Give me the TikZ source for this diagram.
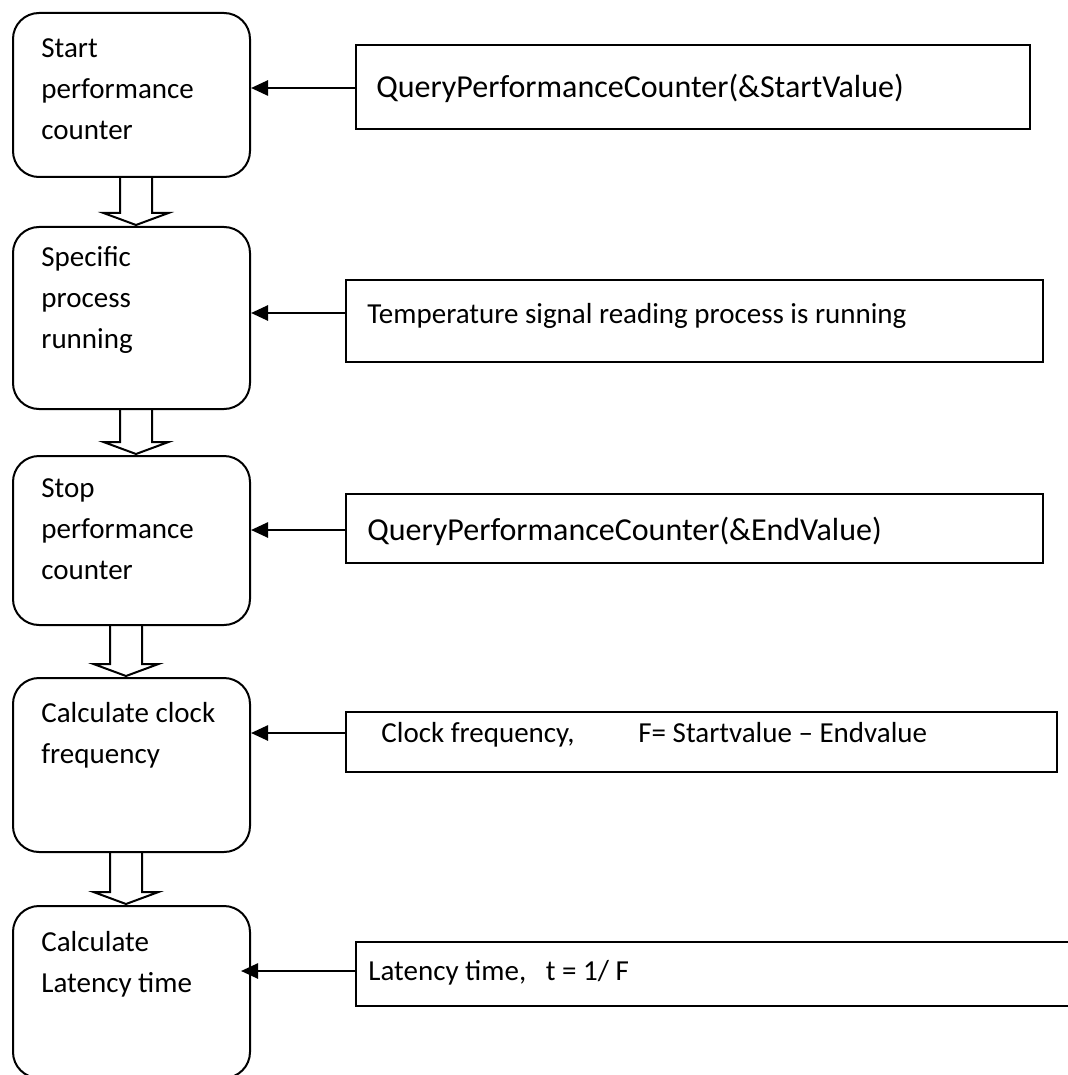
\documentclass[tikz,border=0pt]{standalone}
\usepackage{fontspec}
\setmainfont{Carlito}
\usetikzlibrary{arrows.meta}
\newcommand\blockarrow[3]{%
  \draw[hol] ([xshift=#3-8pt]#1.south) -- ([xshift=#3-8pt,yshift=6.5pt]#2.north)
    -- ([xshift=#3-16.25pt,yshift=6.5pt]#2.north) -- ([xshift=#3,yshift=0.5pt]#2.north)
    -- ([xshift=#3+16.25pt,yshift=6.5pt]#2.north) -- ([xshift=#3+8pt,yshift=6.5pt]#2.north)
    -- ([xshift=#3+8pt]#1.south);}
\begin{document}
\begin{tikzpicture}[x=0.5pt,y=-0.5pt,
  lbox/.style={draw,line width=1pt,rounded corners=13pt,minimum width=118.5pt,inner sep=0pt},
  rbox/.style={draw,line width=0.9pt,inner sep=0pt},
  ltext/.style={anchor=base west,inner sep=0pt,font=\fontsize{14.5pt}{20.5pt}\selectfont},
  rtext/.style={anchor=base west,inner sep=0pt},
  big/.style={font=\fontsize{16pt}{19pt}\selectfont},
  small/.style={font=\fontsize{14.5pt}{17pt}\selectfont},
  feed/.style={line width=1.3pt,-{Triangle[length=8.5pt,width=7.5pt]}},
  hol/.style={line width=1pt,line join=miter}]
\useasboundingbox (0,0) rectangle (1068,1075);
\fill[white] (0,0) rectangle (1068,1075);
\begin{scope}
\clip (0,0) rectangle (1068,1075);
% left process boxes
\node[lbox,minimum height=82pt]   (B1) at (131.5,95) {};
\node[lbox,minimum height=91pt]   (B2) at (131.5,318) {};
\node[lbox,minimum height=84.5pt] (B3) at (131.5,540.5) {};
\node[lbox,minimum height=87pt]   (B4) at (131.5,765) {};
\node[lbox,minimum height=86pt]   (B5) at (131.5,992) {};
% texts of left boxes
\node[ltext] (T1) at (41,58)  {\parbox[t]{115pt}{Start\\performance\\counter}};
\node[ltext] (T2) at (41,266) {\parbox[t]{115pt}{Specific\\process\\running}};
\node[ltext] (T3) at (41,497) {\parbox[t]{115pt}{Stop\\performance\\counter}};
\node[ltext] (T4) at (41,722) {\parbox[t]{115pt}{Calculate clock\\frequency}};
\node[ltext] (T5) at (41,951) {\parbox[t]{115pt}{Calculate\\Latency time}};
% right boxes
\node[rbox,minimum width=337pt,minimum height=42pt]     (R1) at (693,87) {};
\node[rbox,minimum width=348.5pt,minimum height=41pt]   (R2) at (694.5,321) {};
\node[rbox,minimum width=348.5pt,minimum height=34.5pt] (R3) at (694.5,528.5) {};
\node[rbox,minimum width=355.5pt,minimum height=30pt]   (R4) at (701.5,742) {};
\node[rbox,minimum width=359.5pt,minimum height=32pt]   (R5) at (715.5,974) {};
% texts of right boxes
\node[rtext,big]   (Q1) at (376,98)    {QueryPerformanceCounter(\&StartValue)};
\node[rtext,small] (Q2) at (367,323)   {Temperature signal reading process is running};
\node[rtext,big]   (Q3) at (367,540)   {QueryPerformanceCounter(\&EndValue)};
\node[rtext,small] (Q4) at (381,742.5) {\makebox[128.5pt][l]{Clock frequency,}F= Startvalue – Endvalue};
\node[rtext,small] (Q5) at (368,980.5) {Latency time,\ \ \ t = 1/ F};
% arrow levels
\coordinate (y1) at (0,88);
\coordinate (y2) at (0,313);
\coordinate (y3) at (0,530);
\coordinate (y4) at (0,733);
\coordinate (y5) at (0,971);
\draw[feed] (R1.west |- y1) -- (B1.east |- y1);
\draw[feed] (R2.west |- y2) -- (B2.east |- y2);
\draw[feed] (R3.west |- y3) -- (B3.east |- y3);
\draw[feed] (R4.west |- y4) -- (B4.east |- y4);
\draw[feed,shorten >=-5pt] (R5.west |- y5) -- (B5.east |- y5);
% block arrows
\blockarrow{B1}{B2}{2.25pt}
\blockarrow{B2}{B3}{2.25pt}
\blockarrow{B3}{B4}{-2.75pt}
\blockarrow{B4}{B5}{-2.75pt}
\end{scope}
\end{tikzpicture}
\end{document}
